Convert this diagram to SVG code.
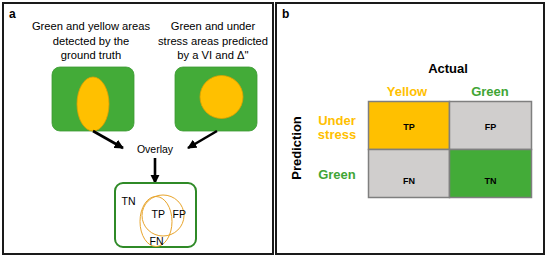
<svg xmlns="http://www.w3.org/2000/svg" width="550" height="259" viewBox="0 0 550 259">
<style>
.panel{fill:#fff;stroke:#1a1a1a;stroke-width:2}
.plab{font-family:"Liberation Sans",Arial,sans-serif;font-weight:bold;font-size:12px;fill:#000}
.cap{font-family:"Liberation Sans",Arial,sans-serif;font-size:11.2px;fill:#000;text-anchor:middle}
.field{fill:#43ab38;stroke:#3c9a33;stroke-width:0.8}
.ylw{fill:#ffc000;stroke:#e0a000;stroke-width:0.8}
.arrow{stroke:#000;stroke-width:2.6;fill:none;marker-end:url(#ah)}
.small{font-family:"Liberation Sans",Arial,sans-serif;font-size:10.5px;fill:#000}
.ovl{fill:none;stroke:#e8a42a;stroke-width:1}
.cell{stroke:#7f7f7f;stroke-width:1.5}
.cl{font-family:"Liberation Sans",Arial,sans-serif;font-weight:bold;font-size:9px;fill:#000;text-anchor:middle}
.hd{font-family:"Liberation Sans",Arial,sans-serif;font-weight:bold;font-size:13px;text-anchor:middle}
</style>
<defs>
<marker id="ah" viewBox="0 0 10 10" refX="9" refY="5" markerWidth="3.6" markerHeight="3.6" orient="auto" markerUnits="strokeWidth">
<path d="M0,0 L10,5 L0,10 z" fill="#000"/>
</marker>
</defs>
<rect class="panel" x="3" y="3" width="270" height="251"/>
<rect class="panel" x="276" y="3" width="268" height="251"/>
<text class="plab" x="9" y="18">a</text>
<text class="plab" x="282" y="18">b</text>

<g id="caption-gt">
<text class="cap" x="91" y="30">Green and yellow areas</text>
<text class="cap" x="91" y="44.5">detected by the</text>
<text class="cap" x="91" y="58.5">ground truth</text>
</g>
<g id="caption-vi">
<text class="cap" x="213" y="30">Green and under</text>
<text class="cap" x="213" y="44.5">stress areas predicted</text>
<text class="cap" x="213" y="58.5">by a VI and Δ''</text>
</g>

<g id="ground-truth">
<rect class="field" x="52" y="67" width="82" height="64" rx="8"/>
<ellipse class="ylw" cx="93" cy="104" rx="16" ry="27"/>
</g>
<g id="prediction">
<rect class="field" x="175" y="67" width="82" height="64" rx="8"/>
<circle class="ylw" cx="221.5" cy="97" r="21.5"/>
</g>

<g id="connectors">
<line class="arrow" x1="93" y1="131" x2="123" y2="148"/>
<line class="arrow" x1="217" y1="131" x2="188" y2="148"/>
<line class="arrow" x1="155" y1="158" x2="155" y2="183"/>
</g>

<g id="overlay-label">
<text class="small" x="155" y="153" text-anchor="middle">Overlay</text>
</g>

<g id="overlay">
<rect x="115" y="183" width="81" height="64" rx="8" fill="#fff" stroke="#2f8a27" stroke-width="2"/>
<ellipse class="ovl" cx="156" cy="221.5" rx="16" ry="25"/>
<ellipse class="ovl" cx="163" cy="215.5" rx="21" ry="20.5"/>
<text class="small" x="121.5" y="205">TN</text>
<text class="small" x="151.5" y="218">TP</text>
<text class="small" x="172.5" y="218">FP</text>
<text class="small" x="149.5" y="245">FN</text>
</g>

<g id="matrix">
<text class="hd" x="448" y="73" fill="#000">Actual</text>
<text class="hd" x="407" y="96" fill="#ffc000" font-size="12.8">Yellow</text>
<text class="hd" x="490" y="96" fill="#3fa535" font-size="12.8">Green</text>
<text class="hd" x="337" y="125" fill="#ffc000" font-size="12.8">Under</text>
<text class="hd" x="337" y="139" fill="#ffc000" font-size="12.8">stress</text>
<text class="hd" x="337" y="179" fill="#3fa535" font-size="12.8">Green</text>
<text class="hd" transform="translate(301,148) rotate(-90)" fill="#000">Prediction</text>
<rect class="cell" x="368.5" y="101.5" width="81" height="48" fill="#ffc000"/>
<rect class="cell" x="449.5" y="101.5" width="82" height="48" fill="#d0cecd"/>
<rect class="cell" x="368.5" y="149.5" width="81" height="48" fill="#d0cecd"/>
<rect class="cell" x="449.5" y="149.5" width="82" height="48" fill="#43ab38"/>
<text class="cl" x="409" y="130">TP</text>
<text class="cl" x="490.5" y="130">FP</text>
<text class="cl" x="409" y="184">FN</text>
<text class="cl" x="490.5" y="184">TN</text>
</g>
</svg>
